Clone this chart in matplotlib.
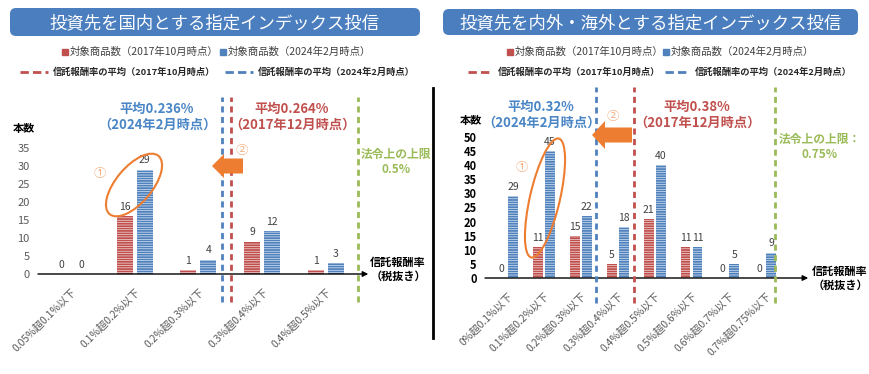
import numpy as np
import matplotlib
matplotlib.use("Agg")
import matplotlib.pyplot as plt
from matplotlib.patches import Ellipse, FancyArrow, FancyBboxPatch

plt.rcParams['font.family'] = ['Noto Sans CJK JP', 'DejaVu Sans']
plt.rcParams['hatch.linewidth'] = 0.4

# ---- data ----
left_title = '投資先を国内とする指定インデックス投信'
left_cats = ['0.05%超0.1%以下', '0.1%超0.2%以下', '0.2%超0.3%以下',
             '0.3%超0.4%以下', '0.4%超0.5%以下']
left_2017 = [0, 16, 1, 9, 1]
left_2024 = [0, 29, 4, 12, 3]
left_avg_2024 = '平均0.236%\n（2024年2月時点）'
left_avg_2017 = '平均0.264%\n（2017年12月時点）'
left_limit = '法令上の上限\n0.5%'

right_title = '投資先を内外・海外とする指定インデックス投信'
right_cats = ['0%超0.1%以下', '0.1%超0.2%以下', '0.2%超0.3%以下', '0.3%超0.4%以下',
              '0.4%超0.5%以下', '0.5%超0.6%以下', '0.6%超0.7%以下', '0.7%超0.75%以下']
right_2017 = [0, 11, 15, 5, 21, 11, 0, 0]
right_2024 = [29, 45, 22, 18, 40, 11, 5, 9]
right_avg_2024 = '平均0.32%\n（2024年2月時点）'
right_avg_2017 = '平均0.38%\n（2017年12月時点）'
right_limit = '法令上の上限：\n0.75%'

leg_bar_2017 = '対象商品数（2017年10月時点）'
leg_bar_2024 = '対象商品数（2024年2月時点）'
leg_line_2017 = '信託報酬率の平均（2017年10月時点）'
leg_line_2024 = '信託報酬率の平均（2024年2月時点）'

RED = '#c0504d'
BLUE = '#4f81bd'
GREEN = '#9bbb59'
ORANGE = '#ed7d31'
LORANGE = '#f4b183'
GRAY = '#404040'
W, H = 870, 374

fig = plt.figure(figsize=(8.7, 3.74), dpi=100)


def px_axes(x0, x1, ytop, ybot):
    return fig.add_axes([x0 / W, (H - ybot) / H, (x1 - x0) / W, (ybot - ytop) / H])


def panel(ax, cats, v17, v24, off, bw, yticks, bold_ticks):
    x = np.arange(len(cats))
    for vals, dx, col in [(v17, -off, RED), (v24, off, BLUE)]:
        bars = ax.bar(x + dx, vals, width=bw, color=col, edgecolor='white',
                      linewidth=0, hatch='-------', zorder=2)
        for b, v in zip(bars, vals):
            ax.annotate(str(v), (b.get_x() + b.get_width() / 2, v), xytext=(0, 3),
                        textcoords='offset points', ha='center', va='bottom',
                        fontsize=7.5, color=GRAY)
    for s in ax.spines.values():
        s.set_visible(False)
    ax.patch.set_alpha(0)
    ax.set_xticks(x)
    ax.set_xticklabels(cats, rotation=45, ha='right', rotation_mode='anchor',
                       fontsize=7.5, color='#595959')
    ax.set_yticks(yticks)
    if bold_ticks:
        ax.set_yticklabels([str(t) for t in yticks], fontsize=8, fontweight='bold', color='black')
    else:
        ax.set_yticklabels([str(t) for t in yticks], fontsize=8, color='#595959')
    ax.tick_params(axis='both', length=0)
    ax.tick_params(axis='x', pad=9)
    ax.tick_params(axis='y', pad=6)
    ax.annotate('', xy=(1.01, 0), xytext=(0, 0), xycoords='axes fraction',
                arrowprops=dict(arrowstyle='-|>', lw=1, color='black',
                                shrinkA=0, shrinkB=0, mutation_scale=8))


def vline(ax, xv, col, y0, y1):
    ax.plot([xv, xv], [y0, y1], color=col, lw=2, ls=(0, (2.2, 1.6)),
            clip_on=False, zorder=3)


# left panel: x axis 38..365 px, zero at y=274, 3.6 px per unit
ax1 = px_axes(38, 365, 97, 274)
panel(ax1, left_cats, left_2017, left_2024, 0.157, 0.25, range(0, 40, 5), False)
ax1.set_xlim(-(71 - 38) / 63.7, (365 - 71) / 63.7)
ax1.set_ylim(0, (274 - 97) / 3.6)
for xv, col in [(2.37, BLUE), (2.51, RED), (4.51, GREEN)]:
    vline(ax1, xv, col, -28 / 3.6, (274 - 97) / 3.6)

# right panel: x axis 485..805 px, zero at y=278, 2.82 px per unit
ax2 = px_axes(485, 805, 87, 278)
panel(ax2, right_cats, right_2017, right_2024, 0.163, 0.27, range(0, 55, 5), True)
ax2.set_xlim(-(507 - 485) / 36.9, (805 - 507) / 36.9)
ax2.set_ylim(0, (278 - 87) / 2.82)
for xv, col in [(2.41, BLUE), (3.44, RED), (7.26, GREEN)]:
    vline(ax2, xv, col, -25 / 2.82, (278 - 87) / 2.82)

# overlay in pixel coordinates for titles, legends and callouts
ov = fig.add_axes([0, 0, 1, 1], zorder=5)
ov.set_xlim(0, W)
ov.set_ylim(H, 0)
ov.axis('off')
ov.patch.set_alpha(0)

for (x0, x1, y0, y1, t) in [(10, 420, 8, 36, left_title), (443, 858, 9, 35, right_title)]:
    ov.add_patch(FancyBboxPatch((x0, y0), x1 - x0, y1 - y0,
                                boxstyle='round,pad=0,rounding_size=6',
                                fc='#4a7ebf', ec='none'))
    ov.text((x0 + x1) / 2, (y0 + y1) / 2 + 1, t, color='white', fontsize=12.5,
            ha='center', va='center')

# legends
for sq1, sq2, ly, d1, d2 in [(62, 220, 52, (20, 48), (225, 253)),
                             (507, 663, 52, (468, 493), (665, 690))]:
    ov.plot([sq1 + 3], [ly], marker='s', ms=4.5, color=RED, ls='none')
    ov.text(sq1 + 8, ly, leg_bar_2017, color=GRAY, fontsize=7.5, ha='left', va='center')
    ov.plot([sq2 + 3], [ly], marker='s', ms=4.5, color=BLUE, ls='none')
    ov.text(sq2 + 8, ly, leg_bar_2024, color=GRAY, fontsize=7.5, ha='left', va='center')
    ov.plot(d1, [72, 72], color=RED, lw=2, ls=(0, (3, 1.5)))
    ov.text(d1[1] + 5, 72, leg_line_2017, color='#262626', fontsize=6.7,
            fontweight='bold', ha='left', va='center')
    ov.plot(d2, [72, 72], color=BLUE, lw=2, ls=(0, (3, 1.5)))
    ov.text(d2[1] + 5, 72, leg_line_2024, color='#262626', fontsize=6.7,
            fontweight='bold', ha='left', va='center')

# y-axis labels and x-axis titles
ov.text(24, 128, '本数', fontsize=8, fontweight='bold', ha='center', va='center')
ov.text(471, 120, '本数', fontsize=8, fontweight='bold', ha='center', va='center')
ov.text(398, 269, '信託報酬率\n（税抜き）', fontsize=8, fontweight='bold',
        ha='center', va='center', linespacing=1.1)
ov.text(840, 278, '信託報酬率\n（税抜き）', fontsize=8, fontweight='bold',
        ha='center', va='center', linespacing=1.1)

# averages and legal limits
ov.text(157, 117, left_avg_2024, color='#4a86c5', fontsize=9.5, fontweight='bold',
        ha='center', va='center', linespacing=1.15)
ov.text(292, 117, left_avg_2017, color=RED, fontsize=9.5, fontweight='bold',
        ha='center', va='center', linespacing=1.15)
ov.text(541, 115, right_avg_2024, color='#4a86c5', fontsize=9.5, fontweight='bold',
        ha='center', va='center', linespacing=1.15)
ov.text(697, 115, right_avg_2017, color=RED, fontsize=9.5, fontweight='bold',
        ha='center', va='center', linespacing=1.15)
ov.text(396, 162, left_limit, color=GREEN, fontsize=8.5, fontweight='bold',
        ha='center', va='center', linespacing=1.15)
ov.text(820, 147, right_limit, color=GREEN, fontsize=8.5, fontweight='bold',
        ha='center', va='center', linespacing=1.15)

# callouts
ov.add_patch(Ellipse((134, 185), 36, 76, angle=40, fill=False, ec=ORANGE, lw=1.5))
ov.add_patch(Ellipse((545, 198), 30, 122, angle=13, fill=False, ec=ORANGE, lw=1.5))
ov.add_patch(FancyArrow(243, 166, -31, 0, width=15, head_width=24, head_length=12,
                        length_includes_head=True, color=ORANGE, lw=0))
ov.add_patch(FancyArrow(632, 135, -40, 0, width=15, head_width=28, head_length=13,
                        length_includes_head=True, color=ORANGE, lw=0))
ov.text(100, 173, '①', color=LORANGE, fontsize=9, ha='center', va='center')
ov.text(522, 167, '①', color=LORANGE, fontsize=9, ha='center', va='center')
ov.text(242, 150, '②', color=LORANGE, fontsize=9, ha='center', va='center')
ov.text(613, 116, '②', color=LORANGE, fontsize=9, ha='center', va='center')

# separator between panels
ov.plot([433, 433], [88, 338], color='black', lw=2)

fig.savefig('out.png', dpi=100, facecolor='white')
